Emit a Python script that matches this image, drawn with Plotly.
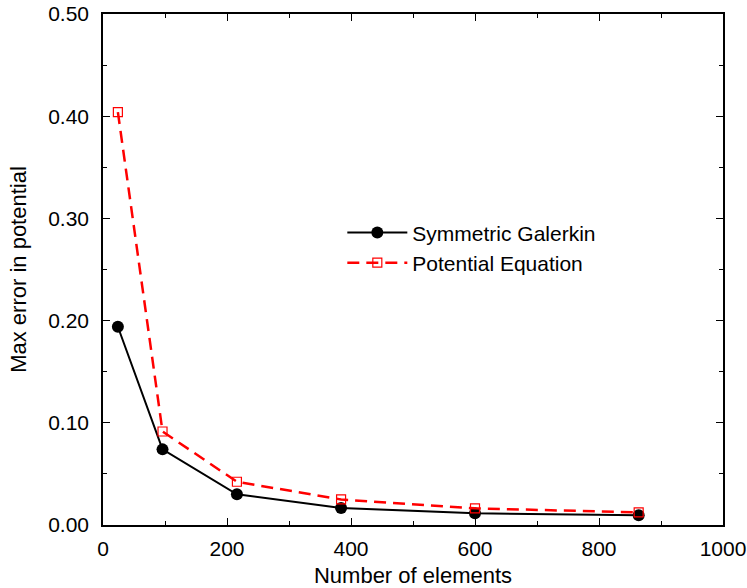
import plotly.graph_objects as go

elements = [24, 96, 216, 384, 600, 864]
sym_galerkin = [0.194, 0.074, 0.030, 0.0167, 0.0115, 0.0095]
potential_eq = [0.404, 0.0915, 0.0423, 0.0250, 0.0163, 0.0123]

x_ticks = [0, 200, 400, 600, 800, 1000]
y_ticks = [0.0, 0.1, 0.2, 0.3, 0.4, 0.5]
y_tick_labels = ["0.00", "0.10", "0.20", "0.30", "0.40", "0.50"]

FONT = "Liberation Sans, Arial, Helvetica, sans-serif"

fig = go.Figure()
fig.add_trace(go.Scatter(
    x=elements, y=sym_galerkin, name="Symmetric Galerkin",
    mode="lines+markers",
    line=dict(color="black", width=2),
    marker=dict(symbol="circle", size=12, color="black"),
))
fig.add_trace(go.Scatter(
    x=elements, y=potential_eq, name="Potential Equation",
    mode="lines+markers",
    line=dict(color="#ff0000", width=2.5, dash="12px,7px"),
    marker=dict(symbol="square-open", size=9, color="#ff0000", line=dict(width=1.2)),
))

axis_common = dict(
    showline=True, linecolor="black", linewidth=1.5, mirror="ticks",
    ticks="inside", ticklen=7, tickwidth=1.2, tickcolor="black",
    showgrid=False, zeroline=False, automargin=False,
    tickfont=dict(family=FONT, size=21, color="black"),
)

fig.update_xaxes(
    range=[0, 1000], tickvals=x_ticks,
    minor=dict(dtick=100, ticks="inside", ticklen=4, tickcolor="black", tickwidth=1),
    title=dict(text="Number of elements", font=dict(family=FONT, size=22, color="black")),
    ticklabelstandoff=4,
    **axis_common,
)
fig.update_yaxes(
    range=[0, 0.5], tickvals=y_ticks, ticktext=y_tick_labels,
    minor=dict(dtick=0.05, ticks="inside", ticklen=4, tickcolor="black", tickwidth=1),
    title=dict(text="Max error in potential", font=dict(family=FONT, size=22, color="black")),
    ticklabelstandoff=8,
    **axis_common,
)

fig.update_layout(
    width=747, height=588,
    margin=dict(l=103, r=24, t=14, b=63),
    paper_bgcolor="white", plot_bgcolor="white",
    font=dict(family=FONT, size=21, color="black"),
    legend=dict(
        x=0.386, y=0.612, xanchor="left", yanchor="top",
        bgcolor="rgba(0,0,0,0)", borderwidth=0,
        font=dict(family=FONT, size=21, color="black"),
        itemwidth=60, tracegroupgap=0,
    ),
)

fig.write_html(
    "out.html",
    config={"displayModeBar": False},
    post_script="document.body.style.margin='0';document.body.style.padding='0';",
)
